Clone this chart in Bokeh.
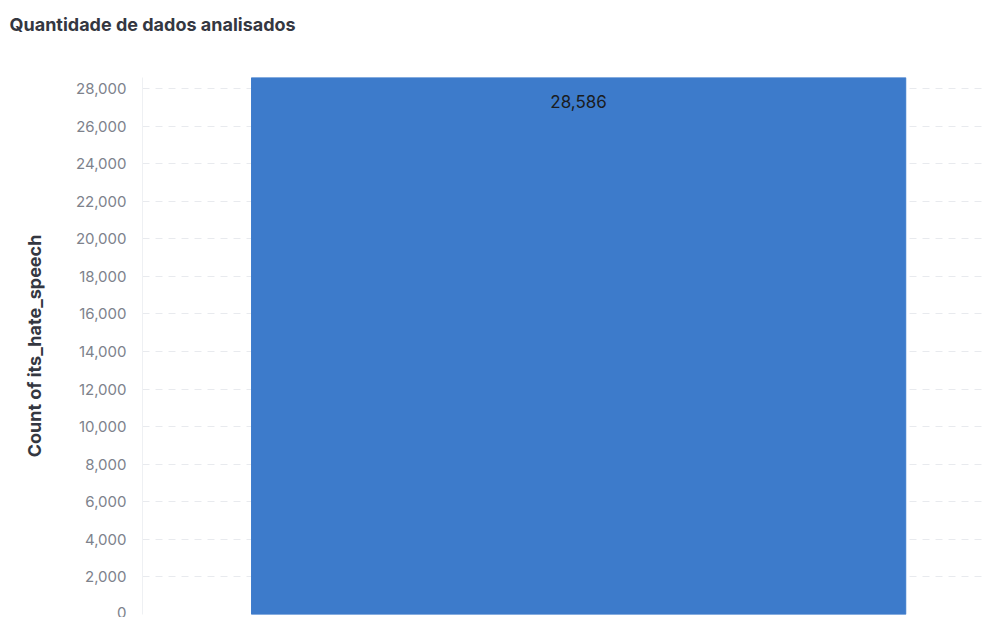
from bokeh.plotting import figure
from bokeh.models import ColumnDataSource, Range1d, SingleIntervalTicker, NumeralTickFormatter, Title
from bokeh.core.properties import value
from bokeh.embed import file_html
from bokeh.resources import INLINE

# Data
title_text = "Quantidade de dados analisados"
categories = ["its_hate_speech"]
counts = [28586]
count_labels = ["28,586"]
y_ticks_interval = 2000

x_pos = list(range(len(categories)))
src = ColumnDataSource(dict(x=x_pos, top=counts, label=count_labels))

p = figure(width=982, height=617, output_backend="svg", toolbar_location=None,
           x_range=Range1d(-0.5, 0.463), y_range=Range1d(0, counts[0]),
           min_border_left=142, min_border_right=0, min_border_bottom=3, min_border_top=77,
           title=title_text)

p.vbar(x="x", top="top", bottom=0, width=0.75, source=src, color="#3d7bcb")
p.text(x="x", y="top", text="label", source=src, text_align="center", text_baseline="middle",
       y_offset=24, text_font=value("Inter"), text_font_size="17px", text_color="#1a1c21")

# blank spacer between title and plot area
p.add_layout(Title(text=" ", text_font_size="18px", standoff=21), "above")

p.outline_line_color = None
p.xaxis.visible = False
p.xgrid.visible = False

p.yaxis.ticker = SingleIntervalTicker(interval=y_ticks_interval)
p.yaxis.formatter = NumeralTickFormatter(format="0,0")
p.yaxis.major_tick_line_color = None
p.yaxis.minor_tick_line_color = None
p.yaxis.axis_line_color = "#eef0f3"
p.yaxis.major_label_standoff = 10
p.yaxis.major_label_text_font = "Inter"
p.yaxis.major_label_text_font_size = "15px"
p.yaxis.major_label_text_color = "#7d828c"
p.yaxis.axis_label = "Count of its_hate_speech"
p.yaxis.axis_label_text_font = "Inter"
p.yaxis.axis_label_text_font_size = "18px"
p.yaxis.axis_label_text_font_style = "bold"
p.yaxis.axis_label_text_color = "#343741"
p.yaxis.axis_label_standoff = 28

p.ygrid.grid_line_color = "#e8eaee"
p.ygrid.grid_line_dash = "7 6"
p.ygrid.grid_line_width = 1

p.title.text_font = "Inter"
p.title.text_font_size = "18px"
p.title.text_font_style = "bold"
p.title.text_color = "#343741"
p.title.offset = -133
p.title.standoff = 0

open("out.html", "w").write(file_html(p, INLINE))
